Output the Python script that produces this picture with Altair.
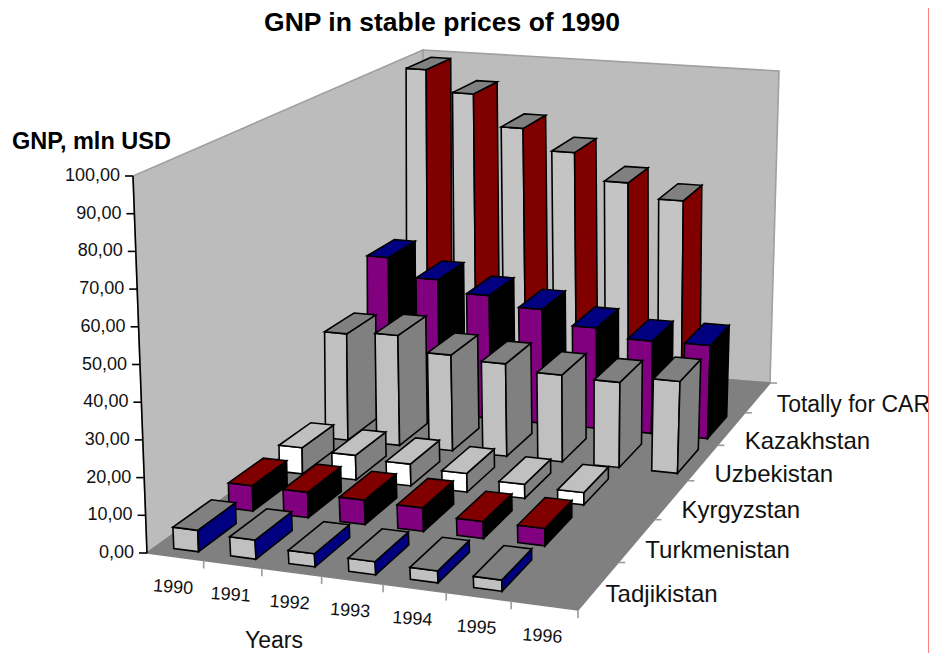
import altair as alt
import numpy as np
import pandas as pd

years = ["1990", "1991", "1992", "1993", "1994", "1995", "1996"]
series = ["Tadjikistan", "Turkmenistan", "Kyrgyzstan", "Uzbekistan", "Kazakhstan", "Totally for CAR"]
tadjikistan = [5.7, 5.1, 3.5, 3.5, 3.2, 3.0]
turkmenistan = [7.0, 7.0, 6.7, 6.5, 4.7, 4.8]
kyrgyzstan = [7.5, 7.0, 6.2, 5.3, 4.0, 3.5]
uzbekistan = [31.5, 32.5, 28.2, 27.2, 25.5, 25, 27]
kazakhstan = [46.5, 41, 37.5, 34.7, 30.5, 28, 28.2]
total = [98.7, 92, 82.2, 75.7, 67.4, 63]
values = [tadjikistan, turkmenistan, kyrgyzstan, uzbekistan, kazakhstan, total]
# front, side, top
face_colors = [
    ("#c0c0c0", "#000080", "#808080"),
    ("#800080", "#000000", "#800000"),
    ("#ffffff", "#808080", "#c0c0c0"),
    ("#c0c0c0", "#808080", "#808080"),
    ("#800080", "#000000", "#000080"),
    ("#c4c4c4", "#800000", "#808080"),
]
value_ticks = list(range(0, 101, 10))
OX, OY = 8, 8


def homography(q):
    src = [(0, 0), (1, 0), (1, 1), (0, 1)]
    a, b = [], []
    for (s, t), (x, y) in zip(src, q):
        a.append([s, t, 1, 0, 0, 0, -s * x, -t * x]); b.append(x)
        a.append([0, 0, 0, s, t, 1, -s * y, -t * y]); b.append(y)
    h = np.linalg.solve(np.array(a, float), np.array(b, float))
    return np.append(h, 1).reshape(3, 3)


FLOOR = homography([(147, 553), (578, 610), (770, 383), (423, 355)])
TOP = homography([(133, 176), (581, 237), (779, 71), (423, 50)])


def apply(h, u, v):
    p = h @ np.array([u, v, 1.0])
    return p[:2] / p[2]


def proj(u, v, w=0.0):
    a = apply(FLOOR, u, v)
    b = apply(TOP, u, v)
    p = a + (b - a) * w / 100.0
    return float(p[0]) - OX, float(p[1]) - OY


rows = []


def poly(points, fill, stroke, width=1.0):
    pid = f"p{len(rows):05d}"
    xs = sorted({round(p[0], 1) for p in points})
    pts = [(round(p[0], 1), p[1]) for p in points]
    n = len(pts)
    for x in xs:
        ys = []
        for i in range(n):
            (x1, y1), (x2, y2) = pts[i], pts[(i + 1) % n]
            if min(x1, x2) <= x <= max(x1, x2):
                if x1 == x2:
                    ys += [y1, y2]
                else:
                    ys.append(y1 + (y2 - y1) * (x - x1) / (x2 - x1))
        rows.append(dict(poly=pid, x=x, y=min(ys), y2=max(ys), fill=fill, stroke=stroke))


def bar(ci, ri, val, cols):
    bw, bd, shift = 0.44, 0.68, 0.03
    n_c, n_r = len(years), len(series)
    u0 = (ci + 0.5 + shift - bw / 2) / n_c
    u1 = (ci + 0.5 + shift + bw / 2) / n_c
    v0 = (ri + 0.5 - bd / 2) / n_r
    v1 = (ri + 0.5 + bd / 2) / n_r
    front, side, top = cols
    poly([proj(u0, v0), proj(u1, v0), proj(u1, v0, val), proj(u0, v0, val)], front, "#000000")
    poly([proj(u1, v0), proj(u1, v1), proj(u1, v1, val), proj(u1, v0, val)], side, "#000000")
    poly([proj(u0, v0, val), proj(u1, v0, val), proj(u1, v1, val), proj(u0, v1, val)], top, "#000000")


WALL, GROUND = "#bcbcbc", "#808080"
poly([proj(0, 0), proj(0, 0, 100), proj(0, 1, 100), proj(0, 1)], WALL, "#a0a0a0")
poly([proj(0, 1), proj(0, 1, 100), proj(1, 1, 100), proj(1, 1)], WALL, "#a0a0a0")
poly([proj(0, 0), proj(1, 0), proj(1, 1), proj(0, 1)], GROUND, GROUND)
for ri in range(len(series) - 1, -1, -1):
    for ci, val in enumerate(values[ri]):
        bar(ci, ri, val, face_colors[ri])

faces = pd.DataFrame(rows)
W, H = 921, 645
XS = alt.Scale(domain=[0, W], range=[0, W], nice=False, zero=False)
YS = alt.Scale(domain=[0, H], range=[0, H], nice=False, zero=False)
X = alt.X("x:Q", scale=XS, axis=None)
Y = alt.Y("y:Q", scale=YS, axis=None)

areas = alt.Chart(faces).mark_area(strokeWidth=1.6, interpolate="linear", opacity=1).encode(
    x=X, y=Y, y2="y2:Q",
    fill=alt.Fill("fill:N", scale=None),
    stroke=alt.Stroke("stroke:N", scale=None),
    detail="poly:N",
)

# axis lines and ticks
segs = []


def seg(p, q, color, sid):
    segs.append(dict(sid=sid, o=0, x=p[0], y=p[1], color=color))
    segs.append(dict(sid=sid, o=1, x=q[0], y=q[1], color=color))


seg(proj(0, 0), proj(0, 0, 100), "#000000", "s-axis")
for t in value_ticks:
    p = proj(0, 0, t)
    seg(p, (p[0] - 8, p[1]), "#000000", f"s-v{t}")
for i in range(1, len(years) + 1):
    p = proj(i / len(years), 0)
    seg(p, (p[0], p[1] + 8), "#9a9a9a", f"s-y{i}")
for i in range(1, len(series) + 1):
    p = proj(1, i / len(series))
    seg(p, (p[0] + 7, p[1]), "#9a9a9a", f"s-r{i}")
segments = alt.Chart(pd.DataFrame(segs)).mark_line(strokeWidth=1.6).encode(
    x=X, y=Y, order="o:Q", detail="sid:N",
    color=alt.Color("color:N", scale=None),
)

value_labels = pd.DataFrame([
    dict(x=proj(0, 0, t)[0] - 13, y=proj(0, 0, t)[1], text=f"{t},00") for t in value_ticks
])
vtext = alt.Chart(value_labels).mark_text(align="right", baseline="middle", font="Liberation Sans", fontSize=18, color="#111").encode(
    x=X, y=Y, text="text:N")

year_labels = pd.DataFrame([
    dict(x=proj((i + 0.5) / len(years), 0)[0] - 2, y=proj((i + 0.5) / len(years), 0)[1] + 31, text=y)
    for i, y in enumerate(years)
])
ytext = alt.Chart(year_labels).mark_text(align="center", baseline="middle", font="Liberation Sans", fontSize=18, angle=4, color="#111").encode(
    x=X, y=Y, text="text:N")

series_labels = pd.DataFrame([
    dict(x=proj(1, (i + 0.5) / len(series))[0] + 15 + 1.6 * i - 8, y=proj(1, (i + 0.5) / len(series))[1] + 9 + i, text=s)
    for i, s in enumerate(series[:-1])
])
stext = alt.Chart(series_labels).mark_text(align="left", baseline="middle", font="Liberation Sans", fontSize=24, color="#111").encode(
    x=X, y=Y, text="text:N")
last = len(series) - 1
total_label = pd.DataFrame([dict(x=proj(1, (last + 0.5) / len(series))[0] + 19, y=proj(1, (last + 0.5) / len(series))[1] + 7, text=series[last])])
stext2 = alt.Chart(total_label).mark_text(align="left", baseline="middle", font="Liberation Sans", fontSize=23, color="#111").encode(
    x=X, y=Y, text="text:N")

title = alt.Chart(pd.DataFrame([dict(x=442 - OX, y=23 - OY, text="GNP in stable prices of 1990")])).mark_text(
    align="center", baseline="middle", font="Liberation Sans", fontSize=26.5, fontWeight="bold", color="#000").encode(x=X, y=Y, text="text:N")
ylab = alt.Chart(pd.DataFrame([dict(x=12 - OX, y=142 - OY, text="GNP, mln USD")])).mark_text(
    align="left", baseline="middle", font="Liberation Sans", fontSize=23.5, fontWeight="bold", color="#000").encode(x=X, y=Y, text="text:N")
xlab = alt.Chart(pd.DataFrame([dict(x=274 - OX, y=647.5 - OY, text="Years")])).mark_text(
    align="center", baseline="alphabetic", font="Liberation Sans", fontSize=23, color="#111").encode(x=X, y=Y, text="text:N")

edge = alt.Chart(pd.DataFrame([dict(x=W - 0.5, y=0), dict(x=W - 0.5, y=H)])).mark_line(color="#ff8080", strokeWidth=1).encode(x=X, y=Y)

chart = alt.layer(areas, segments, vtext, ytext, stext, stext2, title, ylab, xlab, edge).properties(
    width=W, height=H, padding=0, autosize=alt.AutoSizeParams(type="none")
).configure_view(stroke=None)
chart.save("out.html", embed_options={"renderer": "svg", "actions": False})
